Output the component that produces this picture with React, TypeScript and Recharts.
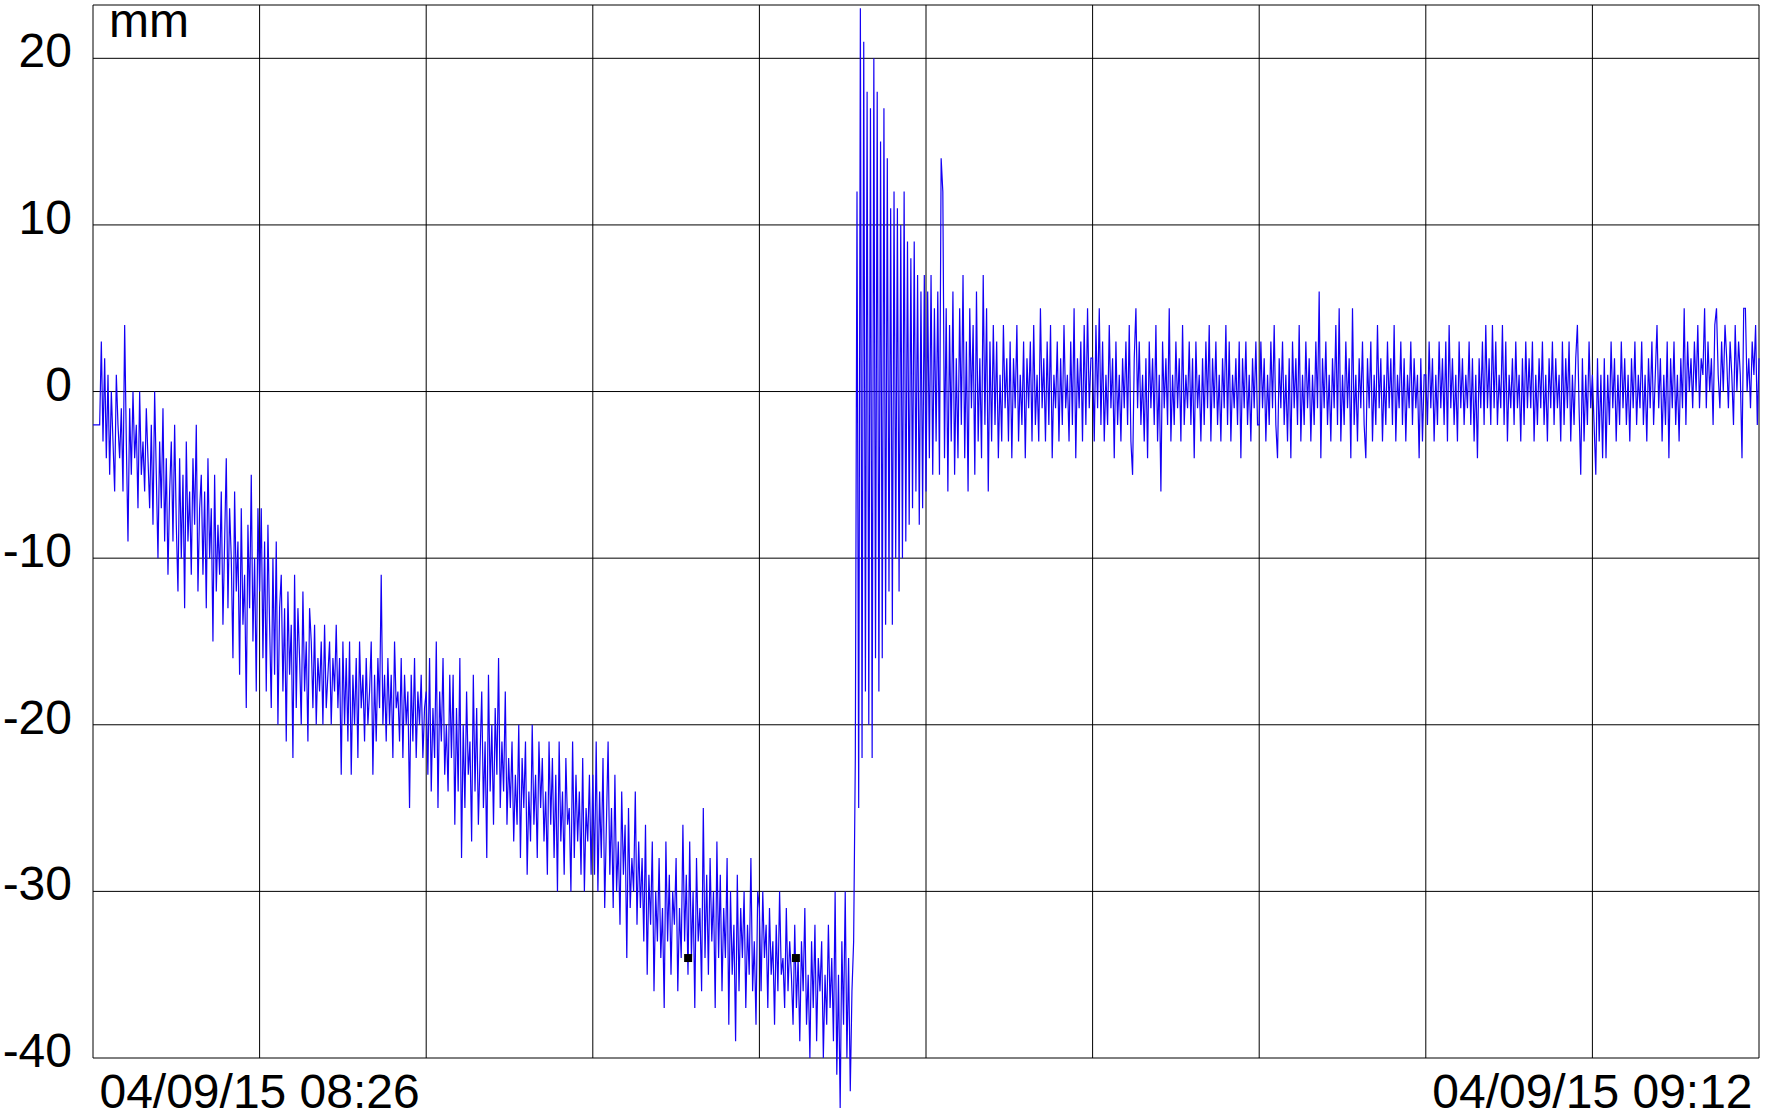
import React from "react";
import { ComposedChart, Line, Scatter, XAxis, YAxis, CartesianGrid } from "recharts";

// displacement in mm, one array per grid column (5.75 min each)
const col0 = [-2, -2, -2, -2, -2, 3, -3, 2, -4, 1, -5, 0, -3, -6, 1, -2, -4, -1, -6, 4, -3, -9, -1, -5, 0, -4, -2, -7, 0, -5, -3, -6, -1, -4, -7, -2, -8, 0, -5, -10, -3, -7, -1, -9, -4, -11, -6, -3, -9, -2, -8, -12, -4, -10, -5, -13, -3, -9, -6, -11, -4, -8, -2, -12, -7, -5, -11, -6, -13, -4, -10, -7, -15, -5, -12, -8, -11, -6, -14, -9, -4, -13, -7, -10, -16, -6, -12, -9, -17, -7, -14, -11, -19, -8, -13, -5, -15, -10, -18, -7];
const col1 = [-12, -7, -16, -9, -18, -8, -14, -19, -10, -17, -9, -20, -13, -11, -18, -13, -21, -12, -17, -14, -22, -11, -19, -13, -16, -20, -12, -18, -15, -21, -13, -15, -19, -14, -20, -16, -18, -15, -20, -14, -19, -17, -15, -20, -16, -18, -14, -19, -16, -23, -15, -20, -16, -21, -15, -23, -17, -20, -16, -22, -15, -19, -17, -21, -16, -20, -18, -15, -23, -17, -21, -16, -19, -11, -20, -17, -21, -16, -20, -17, -22, -15, -19, -18, -21, -16, -22, -17, -20, -18, -25, -17, -21, -16, -22, -18, -20, -17, -22, -19];
const col2 = [-18, -23, -16, -24, -19, -22, -15, -25, -18, -21, -16, -23, -20, -24, -17, -22, -17, -26, -19, -24, -16, -28, -20, -25, -18, -23, -21, -27, -17, -24, -19, -26, -22, -18, -25, -21, -28, -17, -24, -20, -26, -19, -23, -16, -25, -21, -24, -18, -26, -22, -25, -21, -27, -23, -26, -20, -28, -22, -25, -21, -29, -24, -27, -20, -26, -23, -28, -21, -25, -22, -27, -24, -29, -21, -26, -22, -28, -23, -30, -21, -27, -24, -29, -22, -26, -25, -30, -21, -28, -23, -27, -24, -29, -22, -30, -25, -27, -23, -29];
const col3 = [-23, -29, -21, -30, -24, -28, -22, -31, -26, -21, -29, -25, -31, -23, -30, -27, -32, -24, -29, -26, -34, -25, -31, -28, -30, -24, -32, -27, -31, -28, -33, -26, -35, -29, -32, -27, -36, -30, -33, -28, -34, -31, -37, -27, -33, -29, -35, -30, -32, -28, -36, -31, -34, -26, -33, -29, -35, -27, -34, -30, -37, -28, -33, -31, -36, -25, -34, -29, -35, -28, -33, -30, -37, -27, -34, -29, -36, -31, -34, -28, -38, -30, -35, -32, -39, -29, -36, -31, -34, -30, -37, -32, -35, -28, -36, -33, -38, -30];
const col4 = [-31, -36, -30, -34, -32, -37, -31, -35, -33, -38, -32, -36, -30, -35, -34, -37, -31, -36, -33, -35, -38, -32, -37, -34, -39, -33, -36, -31, -38, -35, -40, -33, -37, -32, -39, -34, -36, -33, -40, -35, -38, -32, -37, -34, -39, -30, -41, -35, -43, -33, -38, -30, -40, -34, -42, -36, -33, -22, 12, -25, 23, -22, 21, -18, 18, -20, 17, -22, 20, -16, 18, -18, 15, -16, 17, -14, 14, -12, 11, -14, 12, -10, 11, -12, 10, -10, 12, -9, 9, -8, 8, -7, 9, -6, 7, -8, 6, -7, 7];
const col5 = [-6, 6, -4, 7, -5, 5, -3, 6, -5, 14, 12, -4, 5, -6, 4, -3, 6, -5, 2, -4, 5, -2, 7, -4, 3, -6, 5, -1, 4, -5, 6, -3, 2, -4, 7, -2, 5, -6, 3, -3, 4, -2, 3, -4, 1, -3, 4, -1, 2, -3, 3, -4, 2, -1, 4, -3, 1, -2, 3, -4, 2, -1, 3, -3, 4, -2, 1, -3, 5, -1, 2, -3, 3, -2, 4, -4, 1, -1, 3, -3, 2, -2, 4, -1, 1, -3, 3, -2, 5, -4, 2, -1, 3, -3, 4, -2, 5, -1, 2];
const col6 = [2, -3, 4, -1, 5, -2, 3, -3, 1, -2, 4, -1, 2, -4, 3, -2, 1, -3, 2, -1, 3, -2, 4, -3, -5, 2, 5, -1, 3, -2, 1, -3, 2, -4, 3, -1, 2, -2, 4, -3, 1, -6, 3, -1, 2, -2, 5, -3, 1, -2, 3, -1, 2, -3, 4, -2, 1, -1, 3, -2, 2, -4, 3, -1, 1, -3, 2, -2, 3, -1, 4, -3, 2, -1, 3, -2, 1, -3, 2, -1, 4, -2, 3, -3, 1, -1, 2, -2, 3, -4, 2, -1, 3, -2, 1, -3, 2, -1, 3, -2];
const col7 = [-2, 3, -1, 2, -3, 1, -2, 3, -1, 4, -2, -4, 2, -1, 3, -2, 1, -3, 2, -4, 3, -1, 2, -2, 4, -3, 1, -2, 3, -1, 2, -3, 1, -2, 3, -1, 6, -4, 2, -1, 3, -2, 1, -3, 2, -1, 4, -2, 5, -3, 1, -2, 3, -1, 2, -4, 5, -2, 1, -3, 2, -1, 3, -2, -4, 2, -1, 3, -3, 1, -2, 4, -1, 2, -3, 1, -2, 3, -1, 2, -2, 4, -3, 1, -1, 3, -2, 2, -3, 1, -1, 3, -2, 2, -1, 1, -4, 2, -3, 1];
const col8 = [1, -2, 3, -1, 2, -3, 1, -2, 3, -1, 2, -2, 3, -3, 4, -1, 2, -2, 1, -3, 3, -1, 2, -2, 1, -1, 3, -2, 2, -3, 1, -4, 2, -1, 3, -2, 4, -1, 2, -2, 4, -1, 3, -2, 1, -1, 4, -2, 3, -3, 1, -1, 2, -2, 3, -1, 1, -3, 2, -2, 3, -1, 2, -1, 3, -3, 1, -2, 2, -1, 3, -2, 1, -3, 2, -1, 3, -2, 2, -1, 1, -3, 3, -2, 2, -1, 3, -3, 1, -2, 2, 4, -1, -5, 2, -3, 1, -2, 3, -1];
const col9 = [1, -2, -5, 2, -3, 1, -4, 2, -4, 1, -2, 3, -1, 2, -3, 1, -2, 3, -1, 2, -2, 1, -3, 2, -1, 3, -2, 1, -1, 3, -2, 1, -3, 2, -1, 3, -2, 1, 4, -1, 2, -3, 1, -2, 3, -4, 2, -1, 3, -2, 1, -3, 2, -1, 5, -2, 3, 0, 2, -1, 3, 0, 4, -1, 2, 1, 5, -1, 3, 0, 2, -2, 4, 5, 1, -1, 3, 0, 4, 2, -1, 3, 1, -2, 4, 0, 3, 1, -4, 5, 5, 0, 2, -1, 3, 1, 4, -2, 2];

// minutes since 08:20:15; gridlines every 5.75 min
const colWidth = 5.75;
const xTicks = [0, 5.75, 11.5, 17.25, 23, 28.75, 34.5, 40.25, 46, 51.75, 57.5];
const xTickLabels = ["", "04/09/15 08:26", "", "", "", "", "", "", "", "04/09/15 09:12", ""];
const yTicks = [-40, -30, -20, -10, 0, 10, 20];

// two black marker points
const markerTimes = [20.54, 24.26];
const markerValues = [-34, -34];

const columns = [col0, col1, col2, col3, col4, col5, col6, col7, col8, col9];
const series = columns.flatMap((col, c) => {
  const last = c === columns.length - 1;
  const step = colWidth / (last ? col.length - 1 : col.length);
  return col.map((v, k) => ({ t: c * colWidth + k * step, v }));
});
const markers = markerTimes.map((t, i) => ({ t, v: markerValues[i] }));

const FONT = "'Liberation Sans', Arial, sans-serif";

const XTick = (props: any) => {
  const { x, y, payload } = props;
  const label = xTickLabels[xTicks.indexOf(payload.value)] || "";
  return (
    <text x={x} y={y + 50} textAnchor="middle" fontSize={48} fontFamily={FONT} fill="#000">
      {label}
    </text>
  );
};

const YTick = (props: any) => {
  const { x, y, payload } = props;
  return (
    <text x={x - 21} y={y + 9} textAnchor="end" fontSize={48} fontFamily={FONT} fill="#000">
      {payload.value}
    </text>
  );
};

export default function App() {
  return (
    <div style={{ position: "absolute", left: 0, top: 0, width: 1768, height: 1120, background: "#fff" }}>
      {/* the trace runs a little below the -40 line, as in the original plot */}
      <style>{".recharts-surface [clip-path] { clip-path: none !important; }"}</style>
      <ComposedChart width={1768} height={1120} margin={{ top: 5, right: 9, bottom: 0, left: 8 }}>
        <CartesianGrid stroke="#000" strokeWidth={1} />
        <XAxis
          dataKey="t"
          type="number"
          domain={[0, 57.5]}
          ticks={xTicks}
          interval={0}
          height={62}
          tickLine={false}
          axisLine={false}
          tickSize={0}
          tickMargin={0}
          tick={XTick}
        />
        <YAxis
          type="number"
          domain={[-40, 23.2]}
          ticks={yTicks}
          interval={0}
          width={85}
          tickLine={false}
          axisLine={false}
          tickSize={0}
          tickMargin={0}
          tick={YTick}
          allowDataOverflow
        />
        <Line
          data={series}
          dataKey="v"
          type="linear"
          stroke="#1400f5"
          strokeWidth={1.2}
          dot={false}
          isAnimationActive={false}
        />
        <Scatter data={markers} dataKey="v" fill="#000" shape="square" isAnimationActive={false} />
      </ComposedChart>
      <svg style={{ position: "absolute", left: 0, top: 0 }} width={300} height={60}>
        <text x={109} y={37} fontSize={48} fontFamily={FONT} fill="#000">
          mm
        </text>
      </svg>
    </div>
  );
}
